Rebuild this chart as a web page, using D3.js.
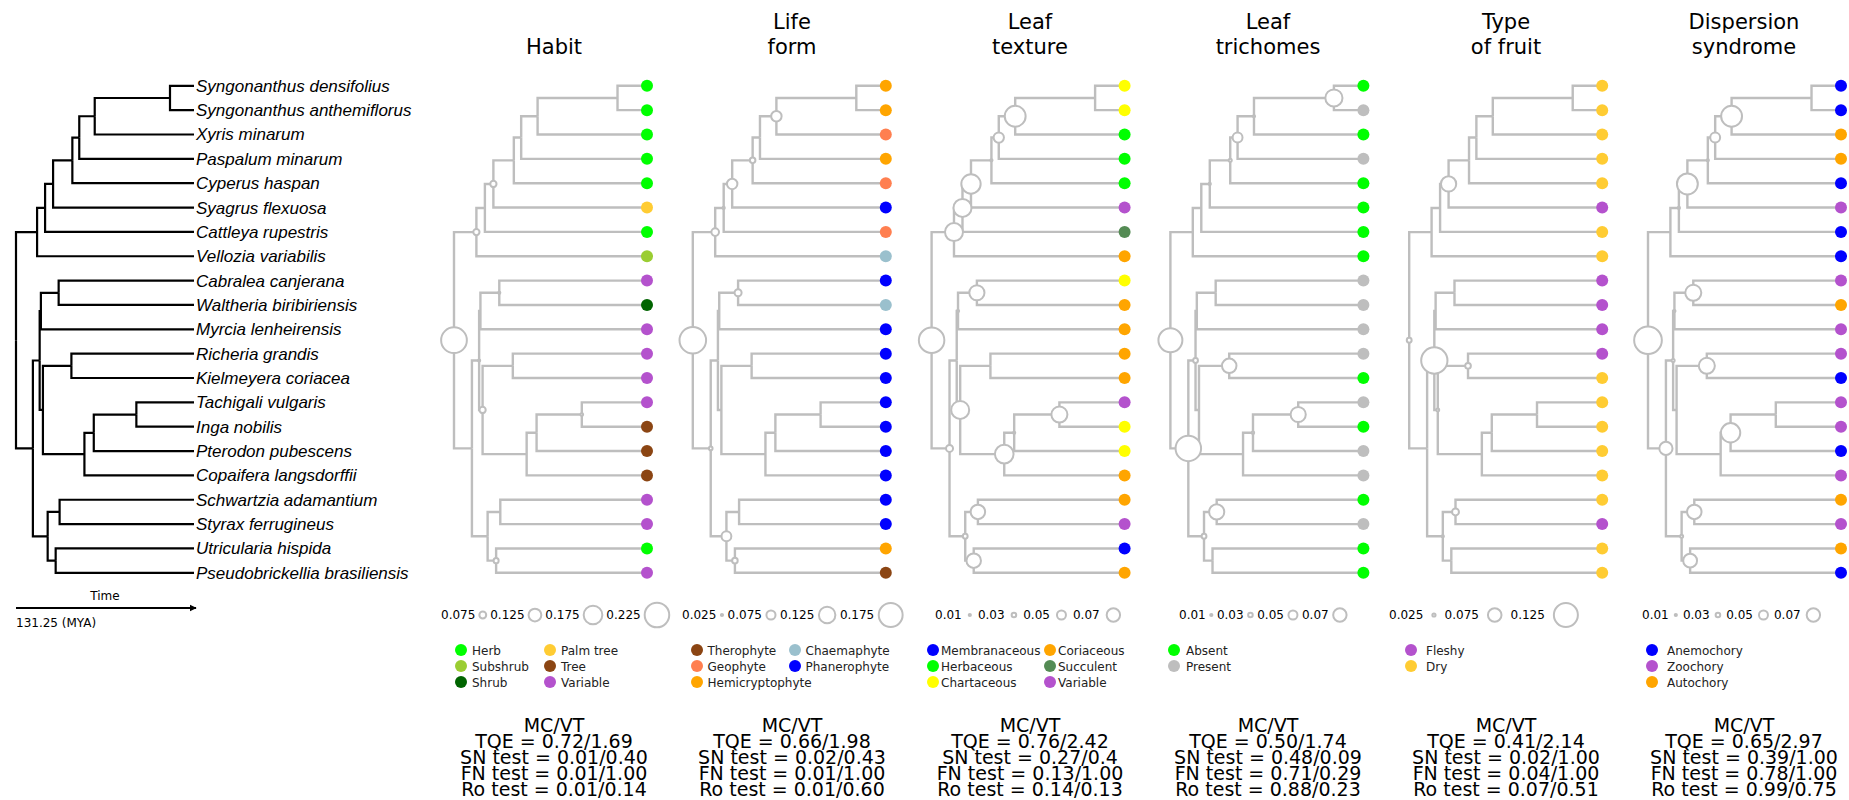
<!DOCTYPE html>
<html>
<head>
<meta charset="utf-8">
<script src="https://cdn.jsdelivr.net/npm/d3@7"></script>
<style>
  body { margin: 0; background: #fff; }
  svg { display: block; }
</style>
</head>
<body>
<div id="chart"></div>
<script>
// Tip order, top to bottom
const species = [
  "Syngonanthus densifolius", "Syngonanthus anthemiflorus", "Xyris minarum",
  "Paspalum minarum", "Cyperus haspan", "Syagrus flexuosa", "Cattleya rupestris",
  "Vellozia variabilis", "Cabralea canjerana", "Waltheria biribiriensis",
  "Myrcia lenheirensis", "Richeria grandis", "Kielmeyera coriacea",
  "Tachigali vulgaris", "Inga nobilis", "Pterodon pubescens",
  "Copaifera langsdorffii", "Schwartzia adamantium", "Styrax ferrugineus",
  "Utricularia hispida", "Pseudobrickellia brasiliensis"
];

// Internal nodes: [id, children (top to bottom), age in MYA]
const clades = [
  ["n1", ["n2", "n9"], 131.25],
  ["n2", ["n3", "Vellozia variabilis"], 115.7],
  ["n3", ["n4", "Cattleya rupestris"], 109.8],
  ["n4", ["n5", "Syagrus flexuosa"], 103.9],
  ["n5", ["n6", "Cyperus haspan"], 89.7],
  ["n6", ["n7", "Paspalum minarum"], 84.6],
  ["n7", ["n8", "Xyris minarum"], 73.2],
  ["n8", ["Syngonanthus densifolius", "Syngonanthus anthemiflorus"], 17.7],
  ["n9", ["n10", "n18"], 118.8],
  ["n10", ["n11", "n13"], 113.8],
  ["n11", ["n12", "Myrcia lenheirensis"], 112.9],
  ["n12", ["Cabralea canjerana", "Waltheria biribiriensis"], 99.8],
  ["n13", ["n14", "n15"], 111.4],
  ["n14", ["Richeria grandis", "Kielmeyera coriacea"], 90.4],
  ["n15", ["n16", "Copaifera langsdorffii"], 80.8],
  ["n16", ["n17", "Pterodon pubescens"], 73.9],
  ["n17", ["Tachigali vulgaris", "Inga nobilis"], 42.5],
  ["n18", ["n19", "n20"], 107.9],
  ["n19", ["Schwartzia adamantium", "Styrax ferrugineus"], 99.1],
  ["n20", ["Utricularia hispida", "Pseudobrickellia brasiliensis"], 102]
];

// ---- Habit
const habitStates = ["Herb", "Subshrub", "Shrub", "Palm tree", "Tree", "Variable"];
const habitColors = ["#00ff00", "#9acd32", "#006400", "#ffcc33", "#8b4513", "#b452cd"];
const habitTips = ["Herb", "Herb", "Herb", "Herb", "Herb", "Palm tree", "Herb", "Subshrub",
  "Variable", "Shrub", "Variable", "Variable", "Variable", "Variable", "Tree", "Tree", "Tree",
  "Variable", "Variable", "Herb", "Variable"];
const habitNodes = [["n1", 0.235], ["n2", 0.07], ["n4", 0.07], ["n10", 0.035], ["n12", 0.035],
  ["n13", 0.07], ["n17", 0.04], ["n20", 0.06]];
const habitSizes = [0.075, 0.125, 0.175, 0.225];
const habitStats = ["TQE = 0.72/1.69", "SN test = 0.01/0.40", "FN test = 0.01/1.00", "Ro test = 0.01/0.14"];

// ---- Life form
const lifeStates = ["Therophyte", "Geophyte", "Hemicryptophyte", "Chaemaphyte", "Phanerophyte"];
const lifeColors = ["#8b4513", "#ff7f50", "#ffa500", "#9ac0cd", "#0000ff"];
const lifeTips = ["Hemicryptophyte", "Hemicryptophyte", "Geophyte", "Hemicryptophyte", "Geophyte",
  "Phanerophyte", "Geophyte", "Chaemaphyte", "Phanerophyte", "Chaemaphyte", "Phanerophyte",
  "Phanerophyte", "Phanerophyte", "Phanerophyte", "Phanerophyte", "Phanerophyte", "Phanerophyte",
  "Phanerophyte", "Phanerophyte", "Hemicryptophyte", "Therophyte"];
const lifeNodes = [["n1", 0.193], ["n2", 0.065], ["n3", 0.027], ["n4", 0.084], ["n5", 0.051],
  ["n7", 0.084], ["n9", 0.038], ["n12", 0.061], ["n18", 0.08], ["n20", 0.051]];
const lifeSizes = [0.025, 0.075, 0.125, 0.175];
const lifeStats = ["TQE = 0.66/1.98", "SN test = 0.02/0.43", "FN test = 0.01/1.00", "Ro test = 0.01/0.60"];

// ---- Leaf texture
const textureStates = ["Membranaceous", "Herbaceous", "Chartaceous", "Coriaceous", "Succulent", "Variable"];
const textureColors = ["#0000ff", "#00ff00", "#ffff00", "#ffa500", "#548b54", "#b452cd"];
const textureTips = ["Chartaceous", "Chartaceous", "Herbaceous", "Herbaceous", "Herbaceous",
  "Variable", "Succulent", "Coriaceous", "Chartaceous", "Coriaceous", "Coriaceous", "Coriaceous",
  "Coriaceous", "Variable", "Chartaceous", "Chartaceous", "Coriaceous", "Coriaceous", "Variable",
  "Membranaceous", "Coriaceous"];
const textureNodes = [["n1", 0.125], ["n2", 0.091], ["n3", 0.091], ["n4", 0.097], ["n5", 0.018],
  ["n6", 0.056], ["n7", 0.104], ["n9", 0.041], ["n11", 0.018], ["n12", 0.078], ["n13", 0.091],
  ["n15", 0.094], ["n16", 0.018], ["n17", 0.082], ["n18", 0.031], ["n19", 0.075], ["n20", 0.075]];
const textureSizes = [0.01, 0.03, 0.05, 0.07];
const textureStats = ["TQE = 0.76/2.42", "SN test = 0.27/0.4", "FN test = 0.13/1.00", "Ro test = 0.14/0.13"];

// ---- Leaf trichomes
const trichomeStates = ["Absent", "Present"];
const trichomeColors = ["#00ff00", "#bebebe"];
const trichomeTips = ["Absent", "Present", "Absent", "Present", "Absent", "Absent", "Absent",
  "Absent", "Present", "Present", "Present", "Present", "Absent", "Present", "Absent", "Present",
  "Present", "Absent", "Present", "Absent", "Absent"];
const trichomeNodes = [["n1", 0.118], ["n4", 0.018], ["n5", 0.023], ["n6", 0.054], ["n7", 0.018],
  ["n8", 0.087], ["n9", 0.125], ["n10", 0.031], ["n14", 0.075], ["n16", 0.02], ["n17", 0.078],
  ["n18", 0.031], ["n19", 0.078]];
const trichomeSizes = [0.01, 0.03, 0.05, 0.07];
const trichomeStats = ["TQE = 0.50/1.74", "SN test = 0.48/0.09", "FN test = 0.71/0.29", "Ro test = 0.88/0.23"];

// ---- Type of fruit
const fruitStates = ["Fleshy", "Dry"];
const fruitColors = ["#b452cd", "#ffcc33"];
const fruitTips = ["Dry", "Dry", "Dry", "Dry", "Dry", "Fleshy", "Dry", "Dry", "Fleshy", "Fleshy",
  "Fleshy", "Fleshy", "Dry", "Dry", "Dry", "Dry", "Dry", "Dry", "Fleshy", "Dry", "Dry"];
const fruitNodes = [["n1", 0.033], ["n4", 0.083], ["n10", 0.136], ["n13", 0.024], ["n14", 0.037],
  ["n18", 0.019], ["n19", 0.043]];
const fruitSizes = [0.025, 0.075, 0.125];
const fruitStats = ["TQE = 0.41/2.14", "SN test = 0.02/1.00", "FN test = 0.04/1.00", "Ro test = 0.07/0.51"];

// ---- Dispersion syndrome
const dispersalStates = ["Anemochory", "Zoochory", "Autochory"];
const dispersalColors = ["#0000ff", "#b452cd", "#ffa500"];
const dispersalTips = ["Anemochory", "Anemochory", "Autochory", "Autochory", "Anemochory",
  "Zoochory", "Anemochory", "Anemochory", "Zoochory", "Autochory", "Zoochory", "Zoochory",
  "Anemochory", "Zoochory", "Zoochory", "Anemochory", "Zoochory", "Autochory", "Zoochory",
  "Autochory", "Anemochory"];
const dispersalNodes = [["n1", 0.135], ["n3", 0.018], ["n4", 0.104], ["n5", 0.018], ["n6", 0.054],
  ["n7", 0.104], ["n9", 0.069], ["n10", 0.023], ["n11", 0.018], ["n12", 0.082], ["n14", 0.082],
  ["n16", 0.097], ["n18", 0.023], ["n19", 0.075], ["n20", 0.072]];
const dispersalSizes = [0.01, 0.03, 0.05, 0.07];
const dispersalStats = ["TQE = 0.65/2.97", "SN test = 0.39/1.00", "FN test = 0.78/1.00", "Ro test = 0.99/0.75"];

const panels = [
  { title: ["Habit"], states: habitStates, colors: habitColors, tips: habitTips, nodes: habitNodes, sizes: habitSizes, stats: habitStats },
  { title: ["Life", "form"], states: lifeStates, colors: lifeColors, tips: lifeTips, nodes: lifeNodes, sizes: lifeSizes, stats: lifeStats },
  { title: ["Leaf", "texture"], states: textureStates, colors: textureColors, tips: textureTips, nodes: textureNodes, sizes: textureSizes, stats: textureStats },
  { title: ["Leaf", "trichomes"], states: trichomeStates, colors: trichomeColors, tips: trichomeTips, nodes: trichomeNodes, sizes: trichomeSizes, stats: trichomeStats },
  { title: ["Type", "of fruit"], states: fruitStates, colors: fruitColors, tips: fruitTips, nodes: fruitNodes, sizes: fruitSizes, stats: fruitStats },
  { title: ["Dispersion", "syndrome"], states: dispersalStates, colors: dispersalColors, tips: dispersalTips, nodes: dispersalNodes, sizes: dispersalSizes, stats: dispersalStats }
];

// layout per panel (pixels)
const layout = [
  { k: 59, sizeX: 441, gap: 3, legCols: [461, 550], legOff: 11 },
  { k: 74, sizeX: 682, gap: 3.5, legCols: [697, 795], legOff: 10.5 },
  { k: 110, sizeX: 935, gap: 6, legCols: [933, 1050], legOff: 8 },
  { k: 110, sizeX: 1179, gap: 3.5, legCols: [1174], legOff: 12 },
  { k: 104, sizeX: 1389, gap: 8, legCols: [1411], legOff: 15 },
  { k: 110, sizeX: 1642, gap: 5, legCols: [1652], legOff: 15 }
];

const width = 1849, height = 800;
const gray = "#bebebe";

const svg = d3.select("#chart")
  .append("svg")
  .attr("width", width)
  .attr("height", height)
  .style("font-family", "'DejaVu Sans', sans-serif");

// Build the hierarchy from the clade table
const cladeMap = new Map(clades.map(c => [c[0], c]));
function build(id) {
  const c = cladeMap.get(id);
  if (!c) return { name: id, age: 0 };
  return { name: id, age: c[2], children: c[1].map(build) };
}
const root = d3.hierarchy(build("n1"));

const y = d3.scalePoint().domain(species).range([85.8, 572.8]);
root.eachAfter(d => {
  d.py = d.children
    ? (d.children[0].py + d.children[d.children.length - 1].py) / 2
    : y(d.data.name);
});

function drawTree(g, x, color, lw) {
  g.selectAll("path.branch")
    .data(root.links())
    .enter()
    .append("path")
    .attr("class", "branch")
    .attr("fill", "none")
    .attr("stroke", color)
    .attr("stroke-width", lw)
    .attr("d", l => `M${x(l.source.data.age)},${l.source.py}V${l.target.py}H${x(l.target.data.age)}`);
}

// ---------- Left dated tree
const xMain = d3.scaleLinear().domain([131.25, 0]).range([16, 194]);
const mainG = svg.append("g");
drawTree(mainG, xMain, "#000", 2.2);

mainG.selectAll("text.tip")
  .data(root.leaves())
  .enter()
  .append("text")
  .attr("class", "tip")
  .attr("x", 196)
  .attr("y", d => d.py)
  .attr("dy", "0.35em")
  .style("font-family", "'Liberation Sans', Arial, sans-serif")
  .style("font-style", "italic")
  .style("font-size", "17px")
  .text(d => d.data.name);

// time arrow
svg.append("defs").append("marker")
  .attr("id", "arrow")
  .attr("viewBox", "0 0 10 10")
  .attr("refX", 9).attr("refY", 5)
  .attr("markerWidth", 4).attr("markerHeight", 4)
  .attr("orient", "auto")
  .append("path").attr("d", "M0,0L10,5L0,10Z").attr("fill", "#000");

mainG.append("line")
  .attr("x1", xMain(131.25)).attr("x2", xMain(0) + 2)
  .attr("y1", 608).attr("y2", 608)
  .attr("stroke", "#000").attr("stroke-width", 1.8)
  .attr("marker-end", "url(#arrow)");
mainG.append("text")
  .attr("x", (xMain(131.25) + xMain(0)) / 2).attr("y", 600)
  .attr("text-anchor", "middle").attr("font-size", 12)
  .text("Time");
mainG.append("text")
  .attr("x", xMain(131.25)).attr("y", 627)
  .attr("font-size", 12)
  .text("131.25 (MYA)");

// ---------- Trait panels
panels.forEach((p, i) => {
  const lay = layout[i];
  const dotX = 647 + 238.8 * i;
  const center = 554 + 238 * i;
  const x = d3.scaleLinear().domain([131.25, 0]).range([dotX - 193, dotX - 4]);
  const color = d3.scaleOrdinal().domain(p.states).range(p.colors);
  const rad = v => Math.max(lay.k * v - 1, 1.1);
  const g = svg.append("g");

  // title
  const tY = p.title.length > 1 ? [29, 54] : [54];
  g.selectAll("text.title")
    .data(p.title)
    .enter()
    .append("text")
    .attr("class", "title")
    .attr("x", center)
    .attr("y", (d, j) => tY[j])
    .attr("text-anchor", "middle")
    .attr("font-size", 21)
    .text(d => d);

  drawTree(g, x, gray, 2.4);

  // tip states
  g.selectAll("circle.tipdot")
    .data(root.leaves())
    .enter()
    .append("circle")
    .attr("class", "tipdot")
    .attr("cx", dotX)
    .attr("cy", d => d.py)
    .attr("r", 6)
    .attr("fill", d => color(p.tips[species.indexOf(d.data.name)]));

  // node circles
  const byId = new Map(root.descendants().filter(d => d.children).map(d => [d.data.name, d]));
  g.selectAll("circle.node")
    .data(p.nodes)
    .enter()
    .append("circle")
    .attr("class", "node")
    .attr("cx", d => x(byId.get(d[0]).data.age))
    .attr("cy", d => byId.get(d[0]).py)
    .attr("r", d => rad(d[1]))
    .attr("fill", "#fff")
    .attr("stroke", gray)
    .attr("stroke-width", 2);

  // size legend
  let cx = lay.sizeX;
  p.sizes.forEach(v => {
    const t = g.append("text")
      .attr("x", cx).attr("y", 619)
      .attr("font-size", 12)
      .text(String(v));
    const w = t.node().getComputedTextLength();
    const r = rad(v);
    g.append("circle")
      .attr("cx", cx + w + lay.gap + r + 1)
      .attr("cy", 615)
      .attr("r", r)
      .attr("fill", "#fff")
      .attr("stroke", gray)
      .attr("stroke-width", 2);
    cx = cx + w + 2 * lay.gap + 2 * r + 2;
  });

  // state legend: dots, then one text block per column
  g.selectAll("circle.legdot")
    .data(p.states)
    .enter()
    .append("circle")
    .attr("class", "legdot")
    .attr("cx", (d, j) => lay.legCols[Math.floor(j / 3)])
    .attr("cy", (d, j) => 650 + 16 * (j % 3))
    .attr("r", 6)
    .attr("fill", d => color(d));

  lay.legCols.forEach((colX, c) => {
    const items = p.states.slice(c * 3, c * 3 + 3);
    const t = g.append("text")
      .attr("x", colX + lay.legOff)
      .attr("y", 654.5)
      .attr("font-size", 12)
      .attr("fill", "#222");
    items.forEach((d, j) => {
      t.append("tspan")
        .attr("x", colX + lay.legOff)
        .attr("dy", j === 0 ? 0 : 16)
        .text(d);
    });
  });

  // statistics block
  const st = g.append("text")
    .attr("x", center)
    .attr("y", 732)
    .attr("text-anchor", "middle")
    .attr("font-size", 19);
  ["MC/VT"].concat(p.stats).forEach((d, j) => {
    st.append("tspan")
      .attr("x", center)
      .attr("dy", j === 0 ? 0 : 16)
      .text(d);
  });
});
</script>
</body>
</html>
